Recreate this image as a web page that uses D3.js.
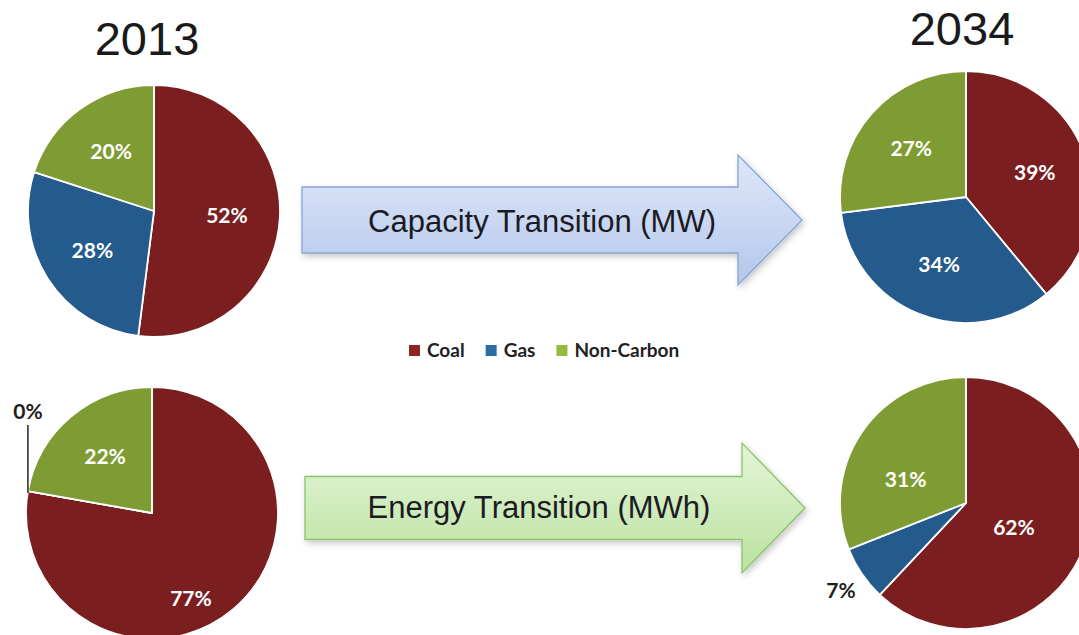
<!DOCTYPE html>
<html>
<head>
<meta charset="utf-8">
<script src="https://cdn.jsdelivr.net/npm/d3@7"></script>
<style>
  html, body { margin: 0; padding: 0; background: #ffffff; }
  svg { display: block; }
</style>
</head>
<body>
<svg id="chart" width="1079" height="635"></svg>
<script>
// Generation mix by source, in percent
const categories = ["Coal", "Gas", "Non-Carbon"];
const capacity2013 = [52, 28, 20];
const capacity2034 = [39, 34, 27];
const energy2013 = [77, 0, 22];
const energy2034 = [62, 7, 31];
const years = ["2013", "2034"];
const transitions = ["Capacity Transition (MW)", "Energy Transition (MWh)"];

const svg = d3.select("#chart");

const color = d3.scaleOrdinal()
  .domain(categories)
  .range(["#7a1e20", "#245b8c", "#7e9c33"]);

const defs = svg.append("defs");

// arrow fills
const grads = [
  { id: "gBlue", top: "#dfe8f8", bottom: "#b3c7ec" },
  { id: "gGreen", top: "#e3f5d7", bottom: "#bbe2a0" }
];
grads.forEach(g => {
  const lg = defs.append("linearGradient")
    .attr("id", g.id).attr("x1", 0).attr("y1", 0).attr("x2", 0).attr("y2", 1);
  lg.append("stop").attr("offset", "0%").attr("stop-color", g.top);
  lg.append("stop").attr("offset", "100%").attr("stop-color", g.bottom);
});
const shadow = defs.append("filter").attr("id", "shadow")
  .attr("x", "-10%").attr("y", "-20%").attr("width", "130%").attr("height", "160%");
shadow.append("feDropShadow")
  .attr("dx", 2).attr("dy", 3).attr("stdDeviation", 3)
  .attr("flood-color", "#000").attr("flood-opacity", 0.22);

// ---- year titles
const titleFont = "'Liberation Sans', Arial, sans-serif";
const titleX = d3.scalePoint().domain(years).range([147, 962]);
svg.selectAll("text.year")
  .data(years)
  .join("text")
  .attr("class", "year")
  .attr("x", d => titleX(d))
  .attr("y", (d, i) => i === 0 ? 55 : 45)
  .attr("text-anchor", "middle")
  .attr("font-family", titleFont)
  .attr("font-size", 47)
  .attr("fill", "#1a1a1a")
  .text(d => d);

// ---- pies
const R = 126;
const pies = [
  { values: capacity2013, cx: 154, cy: 211 },
  { values: capacity2034, cx: 966, cy: 197 },
  { values: energy2013,   cx: 152, cy: 513 },
  { values: energy2034,   cx: 966, cy: 503 }
];

// small per-slice label shifts (pie index, category) -> [dx, dy]
const labelNudge = {
  "2|Coal": [-8, 30],
  "3|Coal": [-20, -2],
  "3|Non-Carbon": [0, 18]
};

const pieGen = d3.pie().sort(null).value(d => d.value);
const arc = d3.arc().innerRadius(0).outerRadius(R);
const labelArc = d3.arc().innerRadius(R * 0.58).outerRadius(R * 0.58);
const outerArc = d3.arc().innerRadius(R * 1.2).outerRadius(R * 1.2);
const fmt = v => v + "%";
const labelFont = "Lato, 'Open Sans', sans-serif";
const labelSize = 21;

pies.forEach((p, pi) => {
  const data = categories.map((c, i) => ({ cat: c, value: p.values[i] }));
  const arcs = pieGen(data);
  const g = svg.append("g").attr("transform", `translate(${p.cx},${p.cy})`);

  g.selectAll("path")
    .data(arcs)
    .join("path")
    .attr("d", arc)
    .attr("fill", d => color(d.data.cat))
    .attr("stroke", "#ffffff")
    .attr("stroke-width", 1.8)
    .attr("stroke-linejoin", "round");

  arcs.forEach(d => {
    const v = d.data.value;
    const label = g.append("text")
      .attr("text-anchor", "middle").attr("dy", "0.35em")
      .attr("font-family", labelFont).attr("font-weight", 700)
      .attr("font-size", labelSize)
      .text(fmt(v));
    if (v === 0) {
      // callout for an empty slice: leader line up to the label
      const a = d.startAngle;
      const px = Math.sin(a) * R, py = -Math.cos(a) * R;
      g.append("line")
        .attr("x1", px).attr("y1", py + 2)
        .attr("x2", px).attr("y2", py - 66)
        .attr("stroke", "#333").attr("stroke-width", 1.6);
      label.attr("x", px).attr("y", py - 79).attr("fill", "#1e1e1e");
    } else if (v < 10) {
      const [x, y] = outerArc.centroid(d);
      label.attr("x", x).attr("y", y + 3).attr("fill", "#1e1e1e");
    } else {
      const [x, y] = labelArc.centroid(d);
      const n = labelNudge[pi + "|" + d.data.cat] || [0, 0];
      label.attr("x", x + n[0]).attr("y", y + n[1]).attr("fill", "#ffffff");
    }
  });
});

// ---- transition arrows
const arrows = [
  { x0: 302, x1: 802, cy: 220, shaft: 33, head: 65, headLen: 64, fill: "url(#gBlue)", stroke: "#86a4d8", textX: 542, textY: 232 },
  { x0: 305, x1: 805, cy: 508, shaft: 31.5, head: 65, headLen: 63, fill: "url(#gGreen)", stroke: "#8cc36b", textX: 539, textY: 518 }
];
const line = d3.line();
arrows.forEach((a, i) => {
  const xs = a.x1 - a.headLen;
  const pts = [
    [a.x0, a.cy - a.shaft], [xs, a.cy - a.shaft], [xs, a.cy - a.head],
    [a.x1, a.cy], [xs, a.cy + a.head], [xs, a.cy + a.shaft], [a.x0, a.cy + a.shaft]
  ];
  svg.append("path")
    .attr("d", line(pts) + "Z")
    .attr("fill", a.fill)
    .attr("stroke", a.stroke)
    .attr("stroke-width", 1.3)
    .attr("filter", "url(#shadow)");
  svg.append("text")
    .attr("x", a.textX).attr("y", a.textY)
    .attr("text-anchor", "middle")
    .attr("font-family", titleFont)
    .attr("font-size", 31)
    .attr("fill", "#1b1b24")
    .text(transitions[i]);
});

// ---- legend
const legend = svg.append("g").attr("transform", "translate(409,345)");
let lx = 0;
categories.forEach(c => {
  const item = legend.append("g").attr("transform", `translate(${lx},0)`);
  item.append("rect")
    .attr("width", 11).attr("height", 11)
    .attr("fill", d3.color(color(c)).brighter(0.5));
  const t = item.append("text")
    .attr("x", 18).attr("y", 12)
    .attr("font-family", labelFont).attr("font-weight", 700)
    .attr("font-size", 19).attr("fill", "#222")
    .text(c);
  lx += 18 + t.node().getComputedTextLength() + 21;
});
</script>
</body>
</html>
